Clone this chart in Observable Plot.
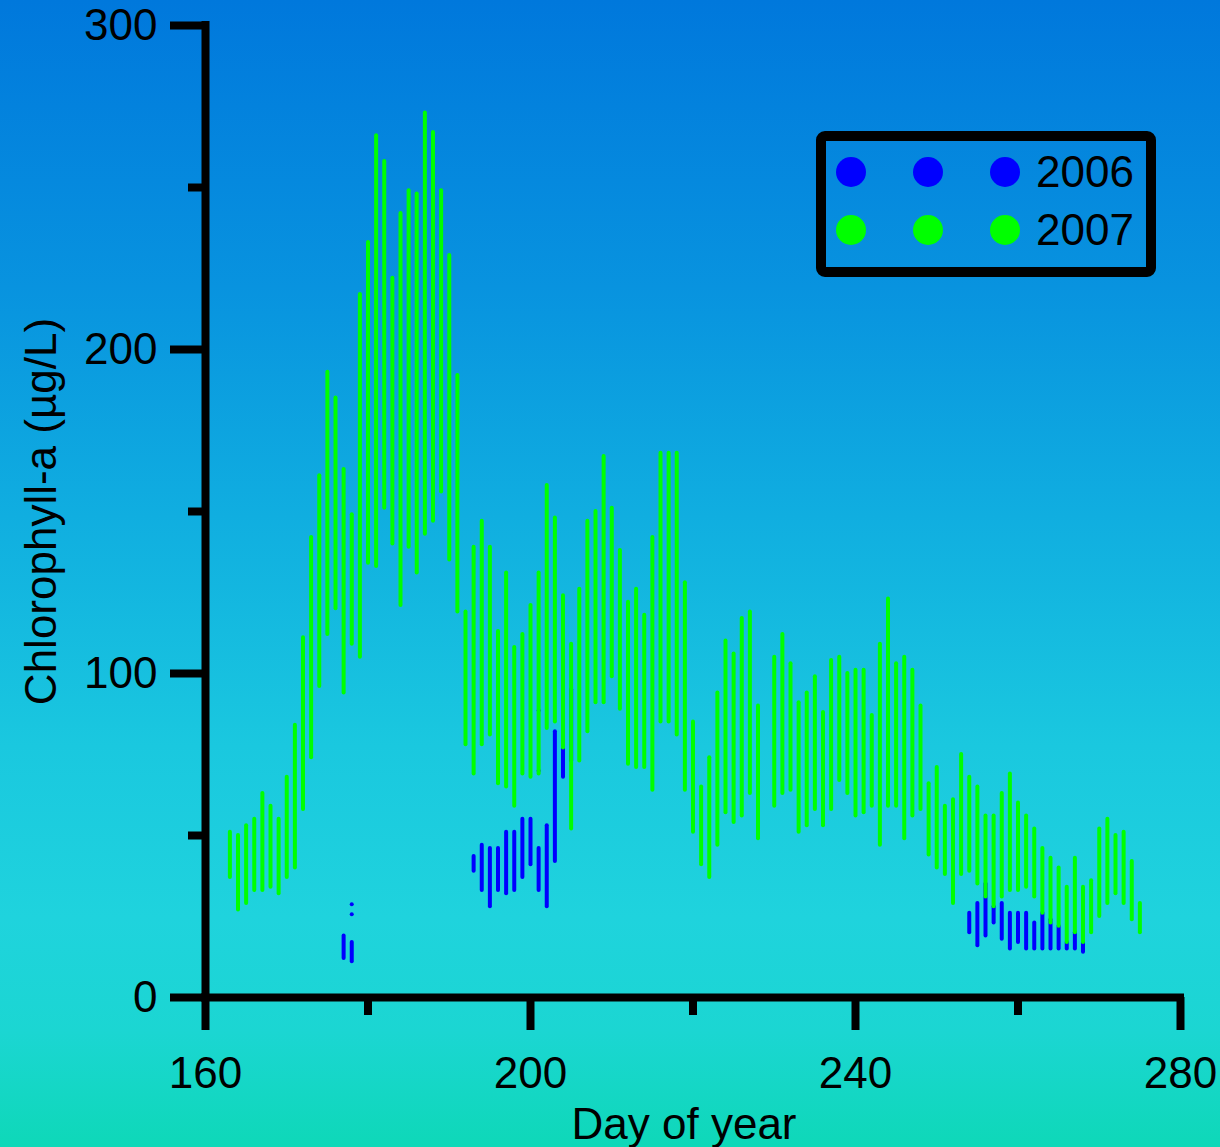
<!DOCTYPE html>
<html>
<head>
<meta charset="utf-8">
<script src="https://cdn.jsdelivr.net/npm/d3@7"></script>
<script src="https://cdn.jsdelivr.net/npm/@observablehq/plot@0.6"></script>
<style>
html, body { margin: 0; padding: 0; width: 1220px; height: 1147px; overflow: hidden; }
#wrap { position: relative; width: 1220px; height: 1147px; }
#legend { position: absolute; left: 0; top: 0; pointer-events: none; }
</style>
</head>
<body>
<div id="wrap"></div>
<script>
// ---- Data ----
// 2007: daily range of chlorophyll-a (µg/L)
const days2007 = [163,164,165,166,167,168,169,170,171,172,173,174,175,176,177,178,179,180,181,182,183,184,185,186,187,188,189,190,191,192,193,194,195,196,197,198,199,200,201,202,203,204,205,206,207,208,209,210,211,212,213,214,215,216,217,218,219,220,221,222,223,224,225,226,227,228,230,231,232,233,234,235,236,237,238,239,240,241,242,243,244,245,246,247,248,249,250,251,252,253,254,255,256,257,258,259,260,261,262,263,264,265,266,267,268,269,270,271,272,273,274,275];
const hi2007 = [51,50,53,55,63,59,55,68,84,111,142,161,193,185,163,149,217,233,266,258,222,242,249,248,273,267,249,229,192,119,139,147,139,113,131,108,112,121,131,158,148,124,109,126,147,150,167,151,138,122,126,118,142,168,168,168,128,85,65,74,94,110,106,117,119,90,105,112,103,91,94,99,88,104,105,100,101,101,87,109,123,103,105,101,90,66,71,59,61,75,68,65,56,56,63,69,60,56,52,46,43,40,34,43,34,36,52,55,50,51,42,29];
const lo2007 = [37,27,29,33,33,34,32,37,40,58,74,96,112,120,94,109,105,134,133,151,140,121,139,131,143,147,156,135,119,78,69,78,81,66,65,59,69,68,69,83,85,77,52,73,82,91,91,99,89,72,71,71,64,85,85,81,64,51,41,37,47,57,54,56,63,49,59,63,64,51,53,58,53,58,67,63,56,57,59,47,59,59,49,56,58,44,40,38,29,38,39,35,31,28,31,33,33,34,31,26,23,22,17,20,17,20,25,29,32,29,24,20];

// 2006: daily range of chlorophyll-a (µg/L)
const days2006 = [177,178,193,194,195,196,197,198,199,200,201,202,203,204,205,254,255,256,257,258,259,260,261,262,263,264,265,266,267,268];
const hi2006 = [19,17,43.5,47,46,46,51,51,55,55,46,53,82,115,95,26,29,35,28,29,26,26,26,23,26,24,22,17,20,17];
const lo2006 = [12,11,39,33,28,33,32,33,37,41,33,28,42,68,73,20,16,19,23,18,15,17,15,15,15,15,15,15,15,14];
// 2006: isolated readings
const ptDays2006 = [178,178,201,201];
const ptVals2006 = [25.7,28.8,70,88.6];

const years = ["2006", "2007"];
const yearColors = ["#0000ff", "#00ff00"];

const xMajor = [160, 200, 240, 280];
const xMinor = [180, 220, 260];
const yMajor = [0, 100, 200, 300];
const yMinor = [50, 150, 250];

const xTitle = "Day of year";
const yTitle = "Chlorophyll-a (µg/L)";

// ---- Build tables ----
const rows2007 = days2007.map((d, i) => ({day: d, lo: lo2007[i], hi: hi2007[i]}));
const rows2006 = days2006.map((d, i) => ({day: d, lo: lo2006[i], hi: hi2006[i]}));
const pts2006 = ptDays2006.map((d, i) => ({day: d, v: ptVals2006[i]}));

const FONT = "'Liberation Sans', Arial, Helvetica, sans-serif";

const plot = Plot.plot({
  width: 1220,
  height: 1147,
  marginLeft: 205,
  marginRight: 40,
  marginTop: 25,
  marginBottom: 150,
  x: {domain: [160, 280]},
  y: {domain: [0, 300]},
  style: {
    background: "linear-gradient(180deg, #0078dc 0%, #0893df 25%, #10aee0 45%, #1ac8df 65%, #1fd3dd 80%, #1bd6d2 90%, #0ed8b8 100%)",
    fontFamily: FONT,
    fontSize: "44px",
    color: "black",
    overflow: "visible"
  },
  marks: [
    Plot.ruleX(rows2006, {x: "day", y1: "lo", y2: "hi", stroke: yearColors[0], strokeWidth: 4, strokeLinecap: "round"}),
    Plot.dot(pts2006, {x: "day", y: "v", r: 2, fill: yearColors[0], stroke: null}),
    Plot.ruleX(rows2007, {x: "day", y1: "lo", y2: "hi", stroke: yearColors[1], strokeWidth: 4, strokeLinecap: "round"}),
    Plot.ruleY([0], {stroke: "black", strokeWidth: 8, strokeLinecap: "square"}),
    Plot.ruleX([160], {stroke: "black", strokeWidth: 8, strokeLinecap: "square"}),
    Plot.axisY(yMajor, {tickSize: 35, tickPadding: 13, strokeWidth: 8, fontSize: 44, label: null, tickFormat: d => String(d)}),
    Plot.axisY(yMinor, {tickSize: 17, strokeWidth: 8, label: null, tickFormat: () => ""}),
    Plot.axisX(xMajor, {tickSize: 33, tickPadding: 26, strokeWidth: 8, fontSize: 44, label: null, tickFormat: d => String(d)}),
    Plot.axisX(xMinor, {tickSize: 18, strokeWidth: 8, label: null, tickFormat: () => ""}),
    Plot.text([xTitle], {frameAnchor: "bottom", textAnchor: "middle", lineAnchor: "middle", dy: 127, dx: -9, fontSize: 44, fill: "black"}),
    Plot.text([yTitle], {frameAnchor: "left", textAnchor: "middle", lineAnchor: "middle", rotate: -90, dx: -164, fontSize: 44, fill: "black"})
  ]
});

const wrap = document.getElementById("wrap");
wrap.appendChild(plot);

// ---- Legend (inside the plot area, top right) ----
const leg = d3.select(wrap).append("svg")
  .attr("id", "legend")
  .attr("width", 1220)
  .attr("height", 1147);

leg.append("rect")
  .attr("x", 821).attr("y", 136)
  .attr("width", 330).attr("height", 136)
  .attr("rx", 4)
  .attr("fill", "none")
  .attr("stroke", "black")
  .attr("stroke-width", 10);

const dotXs = [851, 928, 1005];
years.forEach((yr, i) => {
  const cy = 172 + i * 58;
  dotXs.forEach(cx => {
    leg.append("circle").attr("cx", cx).attr("cy", cy).attr("r", 15).attr("fill", yearColors[i]);
  });
  leg.append("text")
    .attr("x", 1036).attr("y", cy + 15)
    .attr("font-family", FONT)
    .attr("font-size", 44)
    .attr("fill", "black")
    .text(yr);
});
</script>
</body>
</html>
